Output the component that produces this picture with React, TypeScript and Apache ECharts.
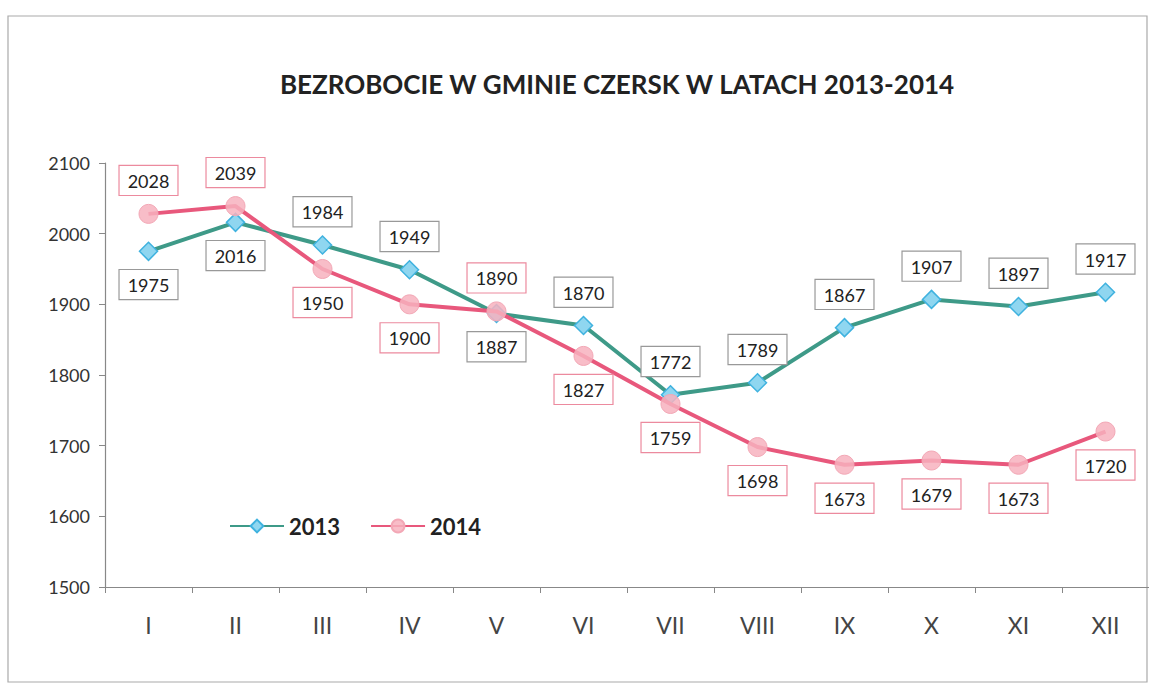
import React, { useEffect, useRef } from "react";
import * as echarts from "echarts";

const months = ["I", "II", "III", "IV", "V", "VI", "VII", "VIII", "IX", "X", "XI", "XII"];
const values2013 = [1975, 2016, 1984, 1949, 1887, 1870, 1772, 1789, 1867, 1907, 1897, 1917];
const values2014 = [2028, 2039, 1950, 1900, 1890, 1827, 1759, 1698, 1673, 1679, 1673, 1720];
const labelPos2013 = ["bottom", "bottom", "top", "top", "bottom", "top", "top", "top", "top", "top", "top", "top"];
const labelPos2014 = ["top", "top", "bottom", "bottom", "top", "bottom", "bottom", "bottom", "bottom", "bottom", "bottom", "bottom"];
const yTicks = [1500, 1600, 1700, 1800, 1900, 2000, 2100];

const FONT = "Lato, 'Open Sans', sans-serif";

export default function App() {
  const ref = useRef<HTMLDivElement>(null);
  useEffect(() => {
    if (!ref.current) return;
    const chart = echarts.init(ref.current, null, { renderer: "svg" });
    const mkData = (vals: number[], pos: string[], border: string) =>
      vals.map((v, i) => ({
        value: v,
        label: { position: pos[i] as any, borderColor: border },
      }));
    const baseLabel = {
      show: true,
      fontFamily: FONT,
      fontSize: 18,
      color: "#222",
      backgroundColor: "#fff",
      borderWidth: 1.2,
      padding: [6, 8, 5, 8],
      distance: 9,
    };
    chart.setOption({
      animation: false,
      backgroundColor: "#fff",
      textStyle: { fontFamily: FONT },
      title: {
        text: "BEZROBOCIE W GMINIE CZERSK W LATACH 2013-2014",
        left: 612,
        top: 66,
        textAlign: "center",
        textStyle: { fontFamily: FONT, fontSize: 26, fontWeight: "bold", color: "#222" },
      },
      graphic: [
        {
          type: "rect",
          shape: { x: 8, y: 16, width: 1139, height: 666 },
          style: { fill: "none", stroke: "#aaa", lineWidth: 1.2 },
          silent: true,
        },
      ],
      legend: {
        left: 224,
        top: 510,
        itemWidth: 54,
        itemHeight: 16,
        itemGap: 30,
        textStyle: { fontFamily: FONT, fontSize: 22, fontWeight: "bold", color: "#222" },
        data: ["2013", "2014"],
      },
      grid: { left: 105, right: 0, top: 163, bottom: 98 },
      xAxis: {
        type: "category",
        data: months,
        boundaryGap: true,
        axisLine: { lineStyle: { color: "#888", width: 1.2 } },
        axisTick: { show: true, length: 6, lineStyle: { color: "#888" } },
        axisLabel: { fontFamily: FONT, fontSize: 23, color: "#444", margin: 26 },
      },
      yAxis: {
        type: "value",
        min: yTicks[0],
        max: yTicks[yTicks.length - 1],
        interval: 100,
        splitLine: { show: false },
        axisLine: { show: true, lineStyle: { color: "#888", width: 1.2 } },
        axisTick: { show: true, length: 6, lineStyle: { color: "#888" } },
        axisLabel: {
          fontFamily: FONT,
          fontSize: 18,
          color: "#333",
          margin: 15,
          formatter: (v: number) => String(v),
        },
      },
      series: [
        {
          name: "2013",
          type: "line",
          data: mkData(values2013, labelPos2013, "#999"),
          symbol: "diamond",
          symbolSize: 18,
          lineStyle: { color: "#3e9a88", width: 4 },
          itemStyle: { color: "#8fd6f0", borderColor: "#3fb2df", borderWidth: 1.5 },
          label: { ...baseLabel, borderColor: "#999" },
          z: 3,
        },
        {
          name: "2014",
          type: "line",
          data: mkData(values2014, labelPos2014, "#ec8a9e"),
          symbol: "circle",
          symbolSize: 19,
          lineStyle: { color: "#e8587c", width: 4 },
          itemStyle: { color: "rgba(247,178,190,0.85)", borderColor: "#f3a8b6", borderWidth: 1 },
          label: { ...baseLabel, borderColor: "#ec8a9e" },
          z: 4,
        },
      ],
    });
    return () => chart.dispose();
  }, []);
  return (
    <div
      ref={ref}
      style={{ position: "fixed", left: 0, top: 0, width: 1149, height: 685 }}
    />
  );
}
